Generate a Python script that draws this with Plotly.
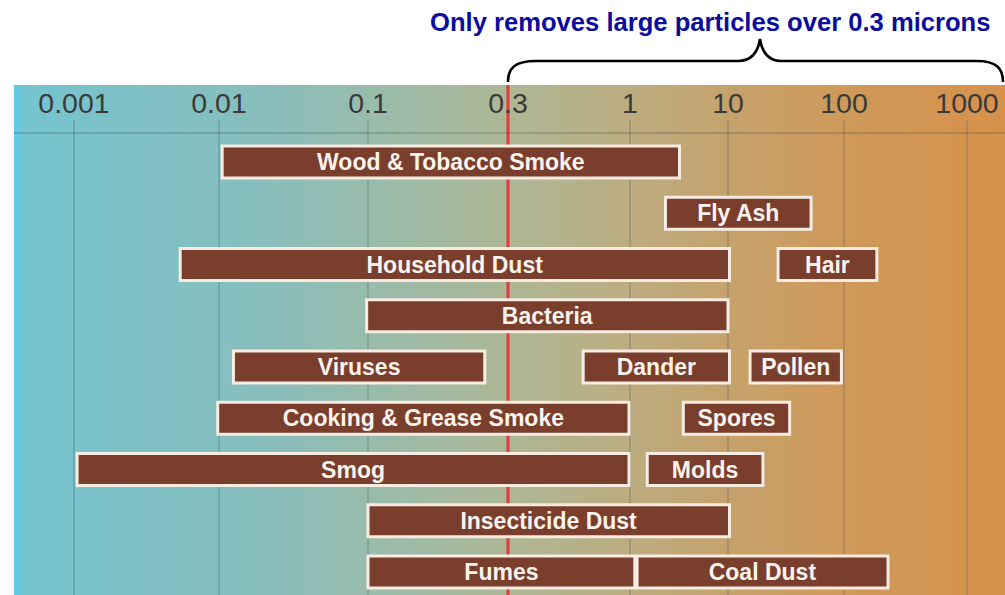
import numpy as np
import plotly.graph_objects as go

# ---------------- data ----------------
tick_labels = ["0.001", "0.01", "0.1", "0.3", "1", "10", "100", "1000"]
tick_microns = [0.001, 0.01, 0.1, 0.3, 1, 10, 100, 1000]
grid_microns = [0.001, 0.01, 0.1, 1, 10, 100, 1000]
cutoff_micron = 0.3

particles = ["Wood & Tobacco Smoke", "Fly Ash", "Household Dust", "Hair", "Bacteria",
             "Viruses", "Dander", "Pollen", "Cooking & Grease Smoke", "Spores",
             "Smog", "Molds", "Insecticide Dust", "Fumes", "Coal Dust"]
lane = [0, 1, 2, 2, 3, 4, 4, 4, 5, 5, 6, 6, 7, 8, 8]
size_min = [0.0105, 2.3, 0.0054, 27, 0.098, 0.0125, 0.63, 15.5, 0.0098, 3.5, 0.00105, 1.5, 0.1, 0.1, 1.18]
size_max = [3.2, 52, 10.3, 185, 10, 0.25, 10.3, 95, 0.99, 34, 0.99, 20, 10.3, 1.12, 228]

title_text = "Only removes large particles over 0.3 microns"

# ---------------- scale (non-uniform chart axis, horizontal units = px) ----------------
W, H = 1005, 595
scale_anchor_px = [74, 219, 368, 508, 630, 728, 844, 967]   # where each tick sits


def xpos(v):
    return np.interp(np.log10(np.asarray(v, dtype=float)), np.log10(tick_microns), scale_anchor_px)


PLOT_TOP_PX = 85
ROW0_PX, ROW_STEP = 162, 51.25


def ypx(p):  # pixel -> lane units
    return (p - ROW0_PX) / ROW_STEP


def ppy(p):  # pixel -> paper units
    return 1 - p / H


y_top, y_bot = ypx(PLOT_TOP_PX), ypx(H)
FONT = "Arial, Liberation Sans, sans-serif"

fig = go.Figure()

# background gradient
stops_px = [14, 24, 120, 260, 368, 508, 630, 728, 844, 1005]
stops_col = ["#5ccbe6", "#74c4d0", "#7dc1c6", "#88bebd", "#98bcac", "#adb795",
             "#bcac80", "#c5a26c", "#cf995a", "#d6924c"]
edges = np.linspace(14, W, 332)
centers = (edges[:-1] + edges[1:]) / 2
cs = [[(p - 14) / (W - 14), c] for p, c in zip(stops_px, stops_col)]
fig.add_trace(go.Heatmap(x=edges, y=[y_bot, y_top], z=[centers], zmin=14, zmax=W,
                         colorscale=cs, showscale=False, hoverinfo="skip"))

# vertical gridlines
gx, gy = [], []
for v in grid_microns:
    p = float(xpos(v))
    gx += [p, p, None]
    gy += [ypx(120), y_bot, None]
fig.add_trace(go.Scatter(x=gx, y=gy, mode="lines", line=dict(color="rgba(55,75,85,0.3)", width=1.4),
                         hoverinfo="skip", showlegend=False))

# red cutoff line
cp = float(xpos(cutoff_micron))
fig.add_trace(go.Scatter(x=[cp, cp], y=[y_top, y_bot], mode="lines",
                         line=dict(color="#dc4040", width=3.2), hoverinfo="skip", showlegend=False))

# particle bars (on an overlaying subplot so they sit above the lines)
lo = xpos(size_min)
hi = xpos(size_max)
fig.add_trace(go.Bar(
    y=lane, base=lo, x=hi - lo, orientation="h", width=0.62, xaxis="x2", yaxis="y2",
    marker=dict(color="#7a3e2d", line=dict(color="#f7ebe2", width=3)),
    text=particles, textposition="inside", insidetextanchor="middle",
    constraintext="none",
    textfont=dict(family=FONT, size=23, color="#fbf3ee", weight="bold"),
    hoverinfo="skip", showlegend=False))

# header separator line
fig.add_shape(type="line", xref="x", yref="y", x0=14, x1=W, y0=ypx(133), y1=ypx(133),
              line=dict(color="rgba(50,65,70,0.42)", width=1.2), layer="above")

# brace
pts = lambda x, y: f"{x},{ppy(y)}"
path = (f"M {pts(508, 82)} C {pts(508, 68)} {pts(515, 61)} {pts(536, 61)} "
        f"L {pts(738, 61)} C {pts(752, 61)} {pts(758, 52)} {pts(760, 39)} "
        f"C {pts(762, 52)} {pts(768, 61)} {pts(782, 61)} "
        f"L {pts(977, 61)} C {pts(996, 61)} {pts(1003, 68)} {pts(1003, 82)}")
fig.add_shape(type="path", xref="x", yref="paper", path=path,
              line=dict(color="black", width=2.6))

fig.add_annotation(x=428, y=ppy(22), xref="x", yref="paper", xanchor="left", yanchor="middle",
                   text=f"<b>{title_text}</b>", showarrow=False,
                   font=dict(family=FONT, size=25.6, color="#0b0b9e"))

dom = [0, 1 - PLOT_TOP_PX / H]
fig.update_layout(
    width=W, height=H, margin=dict(l=0, r=0, t=0, b=0),
    paper_bgcolor="white", plot_bgcolor="white", barmode="overlay",
    xaxis=dict(range=[0, W], side="top", tickvals=list(xpos(tick_microns)), ticktext=tick_labels,
               ticklabelposition="inside", ticks="", showgrid=False, zeroline=False, showline=False,
               ticklabelstandoff=5,
               tickfont=dict(family=FONT, size=28.5, color="#3a3a3a")),
    yaxis=dict(range=[y_bot, y_top], domain=dom, visible=False),
    xaxis2=dict(range=[0, W], overlaying="x", visible=False),
    yaxis2=dict(range=[y_bot, y_top], domain=dom, overlaying="y", visible=False),
)

fig.write_html("out.html", post_script="document.body.style.margin='0';",
               config={"displayModeBar": False})
